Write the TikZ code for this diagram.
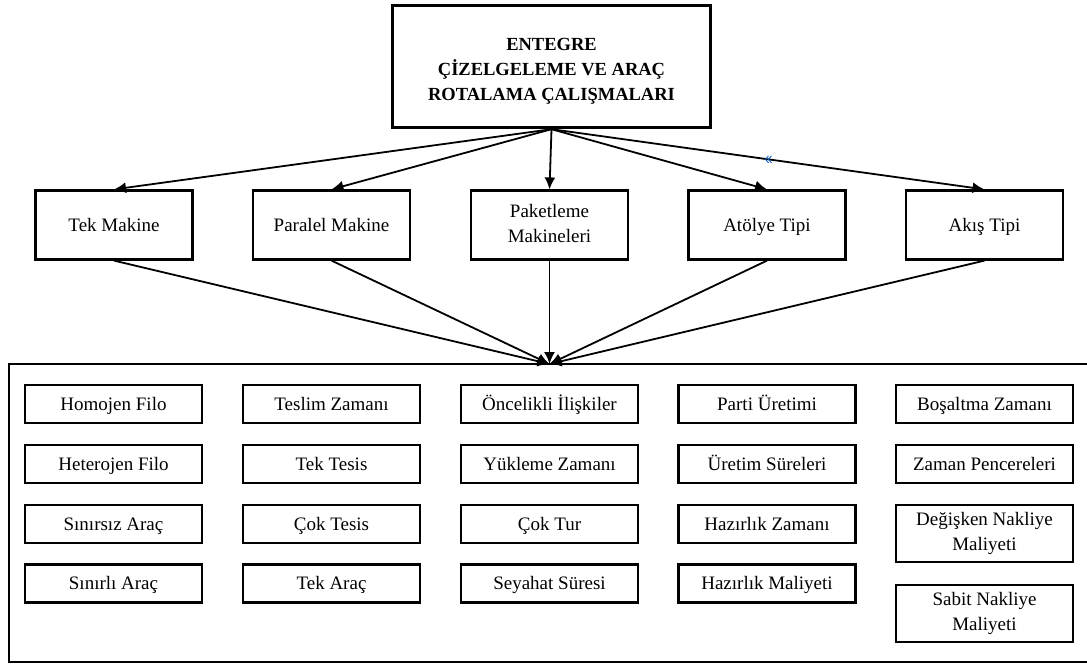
\documentclass[tikz,border=0pt]{standalone}
\usepackage{fontspec}
\setmainfont{Liberation Serif}
\usetikzlibrary{arrows.meta,calc}
% invisible strut that keeps the baselines of all box labels level
\newcommand\labelstrut{\rule[-4pt]{0pt}{21pt}}
\begin{document}
\begin{tikzpicture}[x=1pt,y=-1pt,
  titlebox/.style={draw,line width=3.4pt,inner sep=0pt,
    minimum width=318pt,minimum height=122pt},
  titletext/.style={inner sep=0pt,align=center,
    font=\fontsize{18.5}{25}\selectfont\bfseries},
  labelled/.style={draw,line width=2.2pt,inner sep=0pt,align=center,
    font=\fontsize{19}{25}\selectfont,
    execute at begin node=\labelstrut,execute at end node=\labelstrut},
  typebox/.style={labelled,minimum width=157pt,minimum height=69pt},
  itembox/.style={labelled,minimum width=177pt,minimum height=38pt},
  tallbox/.style={itembox,minimum height=57pt},
  link/.style={line width=1.8pt,-{Latex[length=12pt,width=11pt]}},
  chev/.style={draw=blue!55!cyan!80!black,line width=0.8pt}
]
\useasboundingbox (0,0) rectangle (1087,672);

% heading
\node[titlebox] (top) at (551.5,66.5) {};
\node[titletext] (toptext) at ($(top.center)+(0,5)$)
  {ENTEGRE\\ÇİZELGELEME VE ARAÇ\\ROTALAMA ÇALIŞMALARI};

% problem types
\node[typebox] (tek)   at (114,225)   {Tek Makine};
\node[typebox] (par)   at (331.5,225) {Paralel Makine};
\node[typebox] (pak)   at (549.5,225) {Paketleme\\Makineleri};
\node[typebox] (atol)  at (767,225)   {Atölye Tipi};
\node[typebox] (akis)  at (984.5,225) {Akış Tipi};

% frame around the features
\begin{scope}
\clip (0,0) rectangle (1087,672);
\draw[line width=1.8pt] (1100,364) -- (9,364) -- (9,662) -- (1100,662);
\end{scope}
\coordinate (hub) at (549.5,364);

% features
\node[itembox] at (113.5,404) {Homojen Filo};
\node[itembox] at (113.5,464) {Heterojen Filo};
\node[itembox] at (113.5,524) {Sınırsız Araç};
\node[itembox] at (113.5,583.5) {Sınırlı Araç};

\node[itembox] at (331.5,404) {Teslim Zamanı};
\node[itembox] at (331.5,464) {Tek Tesis};
\node[itembox] at (331.5,524) {Çok Tesis};
\node[itembox] at (331.5,583.5) {Tek Araç};

\node[itembox] at (549.5,404) {Öncelikli İlişkiler};
\node[itembox] at (549.5,464) {Yükleme Zamanı};
\node[itembox] at (549.5,524) {Çok Tur};
\node[itembox] at (549.5,583.5) {Seyahat Süresi};

\node[itembox] at (767,404) {Parti Üretimi};
\node[itembox] at (767,464) {Üretim Süreleri};
\node[itembox] at (767,524) {Hazırlık Zamanı};
\node[itembox] at (767,583.5) {Hazırlık Maliyeti};

\node[itembox] at (984.5,404) {Boşaltma Zamanı};
\node[itembox] at (984.5,464) {Zaman Pencereleri};
\node[tallbox] at (984.5,533.5) {Değişken Nakliye\\Maliyeti};
\node[tallbox] at (984.5,613.5) {Sabit Nakliye\\Maliyeti};

% heading to types
\foreach \t in {tek,par,pak,atol,akis}
  \draw[link] (top.south) -- (\t.north);

% types to the feature frame
\foreach \t in {tek,par,pak,atol,akis}
  \draw[link] (\t.south) -- (hub);

% small direction marks on the last link
\coordinate (mid) at ($(top.south)!0.5!(akis.north)$);
\draw[chev] ($(mid)+(0.5,-3.5)$) -- ($(mid)+(-2.5,0)$) -- ($(mid)+(0.5,3.5)$);
\draw[chev] ($(mid)+(3.5,-3.5)$) -- ($(mid)+(0.5,0)$) -- ($(mid)+(3.5,3.5)$);
\end{tikzpicture}
\end{document}
